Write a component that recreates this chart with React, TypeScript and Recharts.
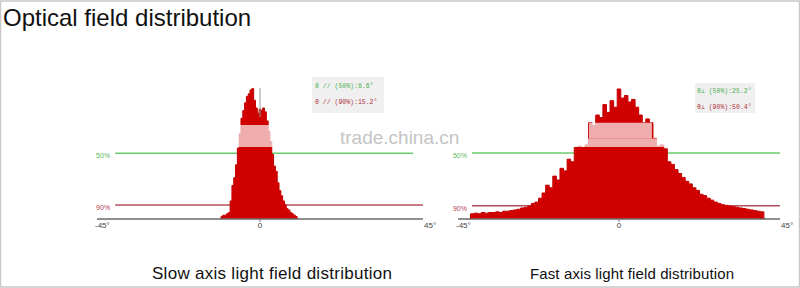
import React from 'react';
import { ComposedChart, Area, XAxis, YAxis, ReferenceLine, ReferenceArea } from 'recharts';

// slow axis histogram, 0.5 degree bins
const slowAngles = [
  -11, -10.5, -10, -9.5, -9, -8.5, -8, -7.5, -7, -6.5, -6, -5.5, -5, -4.5, -4, -3.5, -3, -2.5, -2, -1.5, -1, -0.5,
  0, 0.5, 1, 1.5, 2, 2.5, 3, 3.5, 4, 4.5, 5, 5.5, 6, 6.5, 7, 7.5, 8, 8.5, 9, 9.5, 10, 10.5,
];
const slowValues = [
  0, 2, 3, 3, 4, 5, 14, 26, 32, 42, 55, 66, 78, 84, 90, 95, 97, 100, 101, 92, 86, 82,
  85, 84, 86, 83, 76, 68, 60, 50, 41, 37, 28, 22, 18, 14, 11, 8, 7, 5, 4, 3, 2, 0,
];

// fast axis histogram, 1 degree bins
const fastAngles = [
  -42, -41, -40, -39, -38, -37, -36, -35, -34, -33, -32, -31, -30, -29, -28, -27, -26, -25, -24, -23, -22, -21,
  -20, -19, -18, -17, -16, -15, -14, -13, -12, -11, -10, -9, -8, -7, -6, -5, -4, -3, -2, -1,
  0, 1, 2, 3, 4, 5, 6, 7, 8, 9, 10, 11, 12, 13, 14, 15, 16, 17, 18, 19, 20, 21,
  22, 23, 24, 25, 26, 27, 28, 29, 30, 31, 32, 33, 34, 35, 36, 37, 38, 39, 40, 41,
];
const fastValues = [
  0, 4, 4.5, 4, 5, 4.5, 5, 5, 5.5, 5, 6, 6, 6.5, 7, 7.5, 8.5, 9, 10, 12, 13, 16, 20,
  26, 24, 33, 30, 39, 37, 46, 44, 55, 56, 55, 57, 74, 72, 80, 78, 88, 82, 91, 86,
  100, 93, 95, 90, 92, 86, 80, 74, 77, 74, 62, 56, 57, 54, 44, 42, 38, 35, 32, 29, 27, 24,
  22, 19, 18, 16, 14.5, 13, 12, 11, 10.5, 10, 9.5, 9, 8.5, 8, 7.5, 7, 6.5, 6, 5.5, 0,
];

const axisTicks = [-45, 0, 45];
const levelNames = ['50%', '90%'];
const slowLevels = [51, 10.8];
const fastLevels = [50.8, 10.2];
const slowLegend = ['θ // (50%):8.6°', 'θ // (90%):15.2°'];
const fastLegend = ['θ⊥ (50%):25.2°', 'θ⊥ (90%):50.4°'];

const RED = '#d00000';
const GREEN_LINE = '#6ccc6c';
const RED_LINE = '#b4505e';

const AngleTick = (props: any) => {
  const { x, y, payload } = props;
  const v = payload.value;
  const label = v === 0 ? '0' : `${v}°`;
  return (
    <g>
      {v === 0 && <line x1={x} x2={x} y1={y} y2={y + 3} stroke="#777" />}
      <text
        x={v < 0 ? x - 2 : v > 0 ? x + 1 : x}
        y={y + 9}
        textAnchor={v === 0 ? 'middle' : 'start'}
        fontSize={8}
        fontFamily="Liberation Sans, Arial, sans-serif"
        fill="#444"
      >
        {label}
      </text>
    </g>
  );
};

const levelLabel = (text: string, color: string) => (props: any) => {
  const vb = props.viewBox || {};
  return (
    <text x={vb.x - 19} y={vb.y + 5} fontSize={7} fontFamily="Liberation Sans, Arial, sans-serif" fill={color}>
      {text}
    </text>
  );
};

type PanelProps = {
  angles: number[];
  values: number[];
  levels: number[];
  lineStart: number;
  greenEnd: number;
  left: number;
  width: number;
  margin: { top: number; right: number; bottom: number; left: number };
  bands: { x1: number; x2: number; y1: number; y2: number }[];
  centerMark?: boolean;
};

function Panel({ angles, values, levels, lineStart, greenEnd, left, width, margin, bands, centerMark }: PanelProps) {
  const data = angles.map((a, i) => ({ a, v: values[i] }));
  const xAxis = (withTicks: boolean) => (
    <XAxis
      dataKey="a"
      type="number"
      domain={[-45, 45]}
      ticks={axisTicks}
      allowDataOverflow
      height={20}
      tickSize={0}
      tickMargin={0}
      tickLine={false}
      axisLine={withTicks ? { stroke: '#6a6a6a', strokeWidth: 1.5 } : false}
      tick={withTicks ? <AngleTick /> : false}
    />
  );
  const layer: React.CSSProperties = { position: 'absolute', left: 0, top: 0 };
  return (
    <div style={{ position: 'absolute', left, top: 0, width, height: 288 }}>
      {/* back layer: 50% / 90% level lines sit behind the histogram */}
      <div style={layer}>
        <ComposedChart width={width} height={288} data={data} margin={margin}>
          {xAxis(false)}
          <YAxis hide domain={[0, 110]} allowDataOverflow />
          <ReferenceLine
            segment={[{ x: lineStart, y: levels[0] }, { x: greenEnd, y: levels[0] }]}
            stroke={GREEN_LINE}
            strokeWidth={1.5}
            ifOverflow="visible"
            label={levelLabel(levelNames[0], '#5cb85c')}
          />
          <ReferenceLine
            segment={[{ x: lineStart, y: levels[1] }, { x: 45, y: levels[1] }]}
            stroke={RED_LINE}
            strokeWidth={1.5}
            ifOverflow="visible"
            label={levelLabel(levelNames[1], '#b04050')}
          />
        </ComposedChart>
      </div>
      <div style={layer}>
        <ComposedChart width={width} height={288} data={data} margin={margin}>
          {xAxis(true)}
          <YAxis hide domain={[0, 110]} allowDataOverflow />
          <Area
            dataKey="v"
            type="step"
            fill={RED}
            fillOpacity={1}
            stroke="#c40000"
            strokeWidth={1}
            baseValue={0}
            dot={false}
            activeDot={false}
            isAnimationActive={false}
          />
          {centerMark && (
            <ReferenceLine segment={[{ x: 0, y: 79 }, { x: 0, y: 101.5 }]} stroke="#9a9a9a" strokeWidth={1} ifOverflow="visible" />
          )}
          {bands.map((b, i) => (
            <ReferenceArea key={i} x1={b.x1} x2={b.x2} y1={b.y1} y2={b.y2} fill="#ffffff" fillOpacity={0.68} stroke="none" ifOverflow="visible" />
          ))}
        </ComposedChart>
      </div>
    </div>
  );
}

export default function App() {
  return (
    <div style={{ position: 'absolute', left: 0, top: 0, width: 800, height: 288, background: '#fff', overflow: 'hidden' }}>
      <Panel
        angles={slowAngles}
        values={slowValues}
        levels={slowLevels}
        lineStart={-40}
        greenEnd={42.3}
        left={0}
        width={440}
        margin={{ top: 77, right: 17, bottom: 49, left: 97 }}
        bands={[{ x1: -6.4, x2: 4.7, y1: 55.8, y2: 72.8 }]}
        centerMark
      />
      <Panel
        angles={fastAngles}
        values={fastValues}
        levels={fastLevels}
        lineStart={-41.1}
        greenEnd={45}
        left={440}
        width={360}
        margin={{ top: 76, right: 20, bottom: 49, left: 18 }}
        bands={[
          { x1: -13.1, x2: 14.5, y1: 55.4, y2: 62 },
          { x1: -8.4, x2: 9.2, y1: 62, y2: 74 },
        ]}
      />
      <svg width={800} height={288} style={{ position: 'absolute', left: 0, top: 0, pointerEvents: 'none' }}>
        <rect x={0.5} y={1} width={799} height={286} fill="none" stroke="#c8c8c8" strokeWidth={1.5} />
        <text x={3} y={26} fontSize={24} fontFamily="Liberation Sans, Arial, sans-serif" fill="#111">
          Optical field distribution
        </text>
        <text x={340} y={144} fontSize={19} fontFamily="Liberation Sans, Arial, sans-serif" fill="#c4c4c4">
          trade.china.cn
        </text>
        <rect x={312} y={77} width={72} height={36} fill="#f0f0f0" />
        <text x={315} y={88} fontSize={6.5} fontFamily="Liberation Mono, monospace" fill="#4caf50">{slowLegend[0]}</text>
        <text x={315} y={104} fontSize={6.5} fontFamily="Liberation Mono, monospace" fill="#b03040">{slowLegend[1]}</text>
        <rect x={695} y={83} width={60} height={30} fill="#f0f0f0" />
        <text x={697} y={93} fontSize={6.5} fontFamily="Liberation Mono, monospace" fill="#4caf50">{fastLegend[0]}</text>
        <text x={697} y={109} fontSize={6.5} fontFamily="Liberation Mono, monospace" fill="#b03040">{fastLegend[1]}</text>
        <text x={152} y={279} fontSize={17} textLength={240} fontFamily="Liberation Sans, Arial, sans-serif" fill="#111">
          Slow axis light field distribution
        </text>
        <text x={530} y={279} fontSize={15} textLength={204} fontFamily="Liberation Sans, Arial, sans-serif" fill="#111">
          Fast axis light field distribution
        </text>
      </svg>
    </div>
  );
}
